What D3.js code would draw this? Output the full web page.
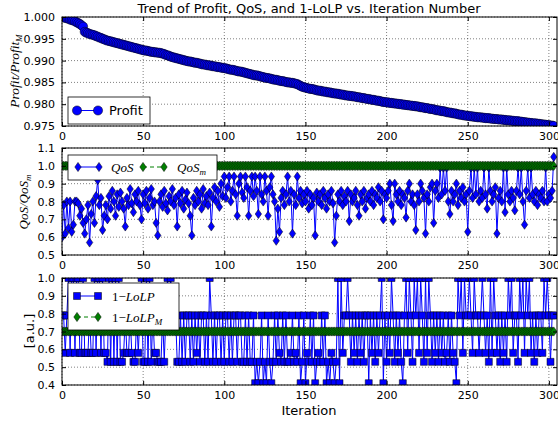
<!DOCTYPE html>
<html>
<head>
<meta charset="utf-8">
<script src="https://cdn.jsdelivr.net/npm/d3@7"></script>
<style>
body { margin: 0; background: #fff; }
svg { display: block; font-family: "DejaVu Sans", sans-serif; }
</style>
</head>
<body>
<div id="chart"></div>
<script>
// ---- data ----
const iterations = d3.range(304);

const profit = [
1.0000,0.9999,0.9998,0.9997,0.9996,0.9994,0.9993,0.9992,0.9990,0.9988,
0.9986,0.9984,0.9981,0.9978,0.9966,0.9964,0.9963,0.9961,0.9960,0.9959,
0.9958,0.9956,0.9955,0.9953,0.9952,0.9950,0.9949,0.9947,0.9946,0.9945,
0.9944,0.9943,0.9942,0.9941,0.9940,0.9939,0.9938,0.9937,0.9936,0.9935,
0.9934,0.9933,0.9932,0.9931,0.9930,0.9929,0.9928,0.9927,0.9926,0.9925,
0.9924,0.9923,0.9923,0.9922,0.9921,0.9920,0.9920,0.9919,0.9919,0.9918,
0.9918,0.9917,0.9916,0.9915,0.9913,0.9912,0.9911,0.9909,0.9908,0.9907,
0.9906,0.9905,0.9904,0.9903,0.9902,0.9901,0.9900,0.9899,0.9898,0.9898,
0.9897,0.9896,0.9895,0.9895,0.9894,0.9893,0.9892,0.9891,0.9891,0.9890,
0.9889,0.9889,0.9888,0.9887,0.9887,0.9886,0.9885,0.9885,0.9884,0.9883,
0.9883,0.9882,0.9881,0.9880,0.9879,0.9879,0.9878,0.9877,0.9876,0.9875,
0.9875,0.9874,0.9873,0.9872,0.9871,0.9870,0.9869,0.9868,0.9867,0.9866,
0.9866,0.9865,0.9864,0.9863,0.9862,0.9861,0.9860,0.9860,0.9859,0.9858,
0.9857,0.9856,0.9856,0.9855,0.9854,0.9853,0.9853,0.9852,0.9851,0.9850,
0.9850,0.9849,0.9849,0.9848,0.9847,0.9846,0.9844,0.9842,0.9840,0.9839,
0.9838,0.9837,0.9836,0.9835,0.9835,0.9834,0.9833,0.9832,0.9831,0.9831,
0.9830,0.9829,0.9829,0.9828,0.9827,0.9827,0.9826,0.9825,0.9825,0.9824,
0.9824,0.9823,0.9822,0.9822,0.9821,0.9820,0.9820,0.9819,0.9819,0.9818,
0.9818,0.9817,0.9816,0.9816,0.9815,0.9814,0.9814,0.9813,0.9812,0.9812,
0.9811,0.9810,0.9810,0.9809,0.9808,0.9808,0.9807,0.9806,0.9805,0.9805,
0.9804,0.9804,0.9803,0.9803,0.9802,0.9802,0.9801,0.9801,0.9800,0.9800,
0.9799,0.9799,0.9798,0.9798,0.9797,0.9797,0.9796,0.9796,0.9795,0.9795,
0.9794,0.9793,0.9793,0.9792,0.9791,0.9791,0.9790,0.9789,0.9789,0.9788,
0.9787,0.9786,0.9786,0.9785,0.9784,0.9784,0.9783,0.9782,0.9781,0.9781,
0.9780,0.9779,0.9779,0.9778,0.9777,0.9776,0.9776,0.9775,0.9774,0.9774,
0.9773,0.9773,0.9772,0.9772,0.9771,0.9771,0.9770,0.9770,0.9770,0.9769,
0.9769,0.9768,0.9768,0.9768,0.9767,0.9767,0.9766,0.9766,0.9766,0.9765,
0.9765,0.9765,0.9764,0.9764,0.9763,0.9763,0.9763,0.9762,0.9762,0.9761,
0.9761,0.9761,0.9760,0.9760,0.9759,0.9759,0.9758,0.9758,0.9757,0.9757,
0.9756,0.9756,0.9756,0.9755,0.9755,0.9754,0.9754,0.9753,0.9753,0.9752,
0.9752,0.9751,0.9751,0.9750
];

const qos = [
0.60,0.78,0.62,0.80,0.65,0.80,0.63,0.67,0.80,0.80,
0.79,0.72,0.76,0.68,0.62,0.70,0.78,0.57,0.73,0.80,
0.68,0.83,0.92,0.78,0.82,0.64,0.72,0.78,0.70,0.83,
0.76,0.86,0.80,0.72,0.84,0.77,0.85,0.80,0.76,0.66,
0.82,0.78,0.87,0.79,0.74,0.84,0.80,0.86,0.78,0.70,
0.84,0.79,0.86,0.76,0.82,0.87,0.78,0.80,0.68,0.61,
0.80,0.84,0.77,0.86,0.79,0.75,0.83,0.80,0.87,0.78,
0.82,0.66,0.84,0.79,0.86,0.76,0.81,0.85,0.79,0.72,
0.61,0.82,0.78,0.86,0.80,0.84,0.76,0.87,0.79,0.83,
0.78,0.85,0.66,0.82,0.88,0.80,0.86,0.77,0.90,0.83,
0.94,0.82,0.88,0.94,0.80,0.86,0.94,0.84,0.72,0.90,
0.94,0.85,0.82,0.94,0.88,0.72,0.86,0.94,0.83,0.94,
0.86,0.73,0.94,0.84,0.80,0.94,0.86,0.72,0.88,0.94,
0.84,0.80,0.58,0.76,0.63,0.82,0.86,0.78,0.84,0.94,
0.80,0.86,0.62,0.84,0.78,0.94,0.82,0.86,0.79,0.84,
0.80,0.86,0.76,0.84,0.78,0.82,0.61,0.85,0.80,0.84,
0.78,0.86,0.82,0.76,0.84,0.80,0.86,0.79,0.57,0.72,
0.84,0.80,0.86,0.78,0.83,0.80,0.86,0.69,0.84,0.80,
0.82,0.86,0.78,0.72,0.84,0.80,0.86,0.76,0.82,0.84,
0.80,0.86,0.78,0.84,0.82,0.88,0.80,0.86,0.70,0.84,
0.82,0.86,0.90,0.78,0.69,0.90,0.84,0.80,0.86,0.78,
0.84,0.82,0.71,0.86,0.90,0.80,0.84,0.78,0.64,0.84,
0.80,0.90,0.86,0.82,0.62,0.84,0.80,0.88,0.90,0.68,
0.86,0.90,0.82,0.99,0.84,0.99,0.86,0.99,0.80,0.73,
0.86,0.80,0.84,0.90,0.78,0.86,0.82,0.88,0.80,0.84,
0.63,0.86,0.99,0.82,0.99,0.84,0.99,0.80,0.86,0.82,
0.99,0.84,0.76,0.99,0.86,0.80,0.84,0.88,0.62,0.82,
0.86,0.80,0.99,0.74,0.99,0.84,0.80,0.86,0.82,0.75,
0.86,0.99,0.84,0.99,0.80,0.67,0.86,0.99,0.82,0.99,
0.84,0.80,0.86,0.78,0.84,0.82,0.86,0.80,0.99,0.80,
0.84,0.82,0.86,1.05
];
const qosTarget = 1.0;

const lolp = [
0.79,0.79,0.58,0.79,1.00,0.58,1.00,1.00,0.58,1.00,
1.00,0.58,0.58,1.00,0.58,0.58,0.58,0.79,0.58,0.58,
1.00,0.58,1.00,1.00,0.58,1.00,0.58,0.58,0.53,1.00,
0.53,1.00,0.53,1.00,0.53,1.00,0.53,0.53,0.58,0.79,
0.58,0.58,0.79,0.58,0.53,0.53,0.79,0.58,0.79,1.00,
0.53,0.53,1.00,0.53,1.00,0.53,0.79,0.58,0.58,0.53,
0.53,0.53,0.79,0.53,0.79,1.00,0.79,1.00,0.79,0.79,
0.79,0.53,0.53,0.79,0.53,0.79,0.53,0.79,0.79,0.53,
0.79,0.53,0.79,0.58,0.79,0.53,0.79,0.79,0.53,0.79,
0.53,1.00,0.79,0.53,0.79,0.53,0.79,0.79,0.53,0.79,
0.53,0.79,0.79,0.53,0.79,0.53,0.79,0.79,0.53,0.79,
0.79,0.53,0.53,0.79,0.53,0.79,0.53,0.53,0.79,0.41,
0.53,0.41,0.53,0.79,0.41,0.53,0.41,0.79,0.53,0.41,
0.53,0.79,0.53,0.79,0.58,0.53,0.79,0.53,0.79,0.53,
0.53,0.58,0.79,0.53,0.58,0.53,0.79,0.41,0.53,0.79,
0.41,0.58,0.53,0.79,0.53,0.79,0.41,0.53,0.58,0.53,
0.79,0.53,0.79,0.41,0.53,0.41,0.58,0.53,0.41,0.53,
1.00,0.41,1.00,0.58,0.79,0.79,1.00,0.79,0.53,0.79,
0.58,0.79,0.53,0.79,0.58,0.79,0.53,0.79,0.79,0.41,
0.79,0.58,0.79,0.53,0.79,0.58,0.79,1.00,0.41,0.79,
0.53,0.79,0.58,1.00,0.79,0.53,0.79,0.58,0.79,0.53,
0.41,0.79,1.00,0.58,1.00,0.79,0.53,1.00,0.79,1.00,
0.58,1.00,0.79,0.53,1.00,0.58,1.00,0.79,0.53,0.79,
0.58,0.79,0.53,0.79,0.58,0.79,0.53,0.58,0.79,0.53,
0.79,0.58,0.53,0.41,1.00,0.79,1.00,0.58,1.00,0.79,
0.79,1.00,0.79,0.58,1.00,0.79,0.79,0.58,0.79,1.00,
0.79,0.58,0.79,0.53,1.00,0.58,1.00,0.79,0.58,0.79,
0.53,0.79,0.58,0.79,0.53,1.00,0.79,1.00,0.58,0.79,
0.79,0.53,1.00,0.79,1.00,0.58,1.00,0.79,1.00,0.58,
0.79,0.53,0.79,0.58,0.79,0.79,0.58,1.00,0.79,1.00,
0.79,0.53,0.79,0.79
];
const lolpTarget = 0.7;

const xTicks = [0, 50, 100, 150, 200, 250, 300];
const profitTicks = [0.975, 0.980, 0.985, 0.990, 0.995, 1.000];
const qosTicks = [0.5, 0.6, 0.7, 0.8, 0.9, 1.0, 1.1];
const lolpTicks = [0.4, 0.5, 0.6, 0.7, 0.8, 0.9, 1.0];

// ---- drawing ----
const width = 558, height = 425;
const blue = "#0000ff", green = "#008000";

const svg = d3.select("#chart").append("svg")
  .attr("width", width).attr("height", height);

const x = d3.scaleLinear().domain([0, 305]).range([62, 557]);

const diamond = "M0,-4.6L3.2,0L0,4.6L-3.2,0Z";
const square = "M-3.5,-3.5H3.5V3.5H-3.5Z";
const circle = d3.symbol(d3.symbolCircle, 66)();

const panels = [
  { name: "profit", top: 17, bottom: 126, domain: [0.975, 1.0], ticks: profitTicks, fmt: d3.format(".3f"),
    series: [{ values: profit, color: blue, marker: circle, dash: null }] },
  { name: "qos", top: 148, bottom: 255, domain: [0.5, 1.1], ticks: qosTicks, fmt: d3.format(".1f"),
    series: [{ values: qos, color: blue, marker: diamond, dash: null },
             { values: iterations.map(() => qosTarget), color: green, marker: diamond, dash: "4,3" }] },
  { name: "lolp", top: 278, bottom: 385, domain: [0.4, 1.0], ticks: lolpTicks, fmt: d3.format(".1f"),
    series: [{ values: lolp, color: blue, marker: square, dash: null },
             { values: iterations.map(() => lolpTarget), color: green, marker: diamond, dash: "4,3" }] }
];

const [x0, x1] = x.range();

panels.forEach(p => {
  const y = d3.scaleLinear().domain(p.domain).range([p.bottom, p.top]);
  const g = svg.append("g");

  g.append("clipPath").attr("id", "clip-" + p.name)
    .append("rect").attr("x", x0).attr("y", p.top).attr("width", x1 - x0).attr("height", p.bottom - p.top);

  // dotted grid
  const grid = g.append("g").attr("stroke", "#000").attr("stroke-width", 0.5).attr("stroke-dasharray", "1,2");
  grid.selectAll(".gx").data(xTicks).join("line")
    .attr("x1", d => x(d)).attr("x2", d => x(d)).attr("y1", p.top).attr("y2", p.bottom);
  grid.selectAll(".gy").data(p.ticks).join("line")
    .attr("x1", x0).attr("x2", x1).attr("y1", d => y(d)).attr("y2", d => y(d));

  const plot = g.append("g").attr("clip-path", `url(#clip-${p.name})`);
  p.series.forEach(s => {
    const line = d3.line().x((d, i) => x(iterations[i])).y(d => y(d));
    plot.append("path").datum(s.values)
      .attr("fill", "none").attr("stroke", s.color).attr("stroke-width", 1)
      .attr("stroke-dasharray", s.dash).attr("d", line);
    plot.append("g").selectAll("path").data(s.values).join("path")
      .attr("d", s.marker)
      .attr("transform", (d, i) => `translate(${x(iterations[i])},${y(d)})`)
      .attr("fill", s.color).attr("stroke", "#000").attr("stroke-width", 0.5);
  });

  // frame
  g.append("rect").attr("x", x0).attr("y", p.top).attr("width", x1 - x0).attr("height", p.bottom - p.top)
    .attr("fill", "none").attr("stroke", "#000").attr("stroke-width", 1);

  // inward ticks on all sides
  g.append("g").attr("transform", `translate(${x0},0)`)
    .call(d3.axisLeft(y).tickValues(p.ticks).tickFormat(p.fmt).tickSize(-4).tickPadding(7))
    .call(a => a.select(".domain").remove());
  g.append("g").attr("transform", `translate(${x1},0)`)
    .call(d3.axisRight(y).tickValues(p.ticks).tickFormat("").tickSize(-4))
    .call(a => a.select(".domain").remove());
  g.append("g").attr("transform", `translate(0,${p.bottom})`)
    .call(d3.axisBottom(x).tickValues(xTicks).tickFormat(d3.format("d")).tickSize(-4).tickPadding(6))
    .call(a => a.select(".domain").remove());
  g.append("g").attr("transform", `translate(0,${p.top})`)
    .call(d3.axisTop(x).tickValues(xTicks).tickFormat("").tickSize(-4))
    .call(a => a.select(".domain").remove());

  g.selectAll(".tick text").attr("font-size", 11).attr("fill", "#000")
    .attr("font-family", "DejaVu Sans, sans-serif");
});

// ---- legends ----
function legendBox(bx, by, bw, bh) {
  svg.append("rect").attr("x", bx).attr("y", by).attr("width", bw).attr("height", bh)
    .attr("fill", "#fff").attr("stroke", "#000").attr("stroke-width", 0.8);
}
function legendEntry(lx, ly, color, marker, dash) {
  svg.append("line").attr("x1", lx).attr("x2", lx + 21).attr("y1", ly).attr("y2", ly)
    .attr("stroke", color).attr("stroke-width", 1).attr("stroke-dasharray", dash);
  [lx, lx + 21].forEach(px => svg.append("path").attr("d", marker)
    .attr("transform", `translate(${px},${ly})`)
    .attr("fill", color).attr("stroke", "#000").attr("stroke-width", 0.5));
}
const mathFont = "Liberation Serif, DejaVu Serif, serif";

legendBox(68, 97, 82, 27);
legendEntry(77, 110.5, blue, circle, null);
svg.append("text").attr("x", 109).attr("y", 115).attr("font-size", 13).text("Profit");

legendBox(68, 155, 149, 25);
legendEntry(78, 167, blue, diamond, null);
svg.append("text").attr("x", 111).attr("y", 171.5).attr("font-size", 13)
  .attr("font-family", mathFont).attr("font-style", "italic").text("QoS");
legendEntry(143, 167, green, diamond, "4,3");
const qm = svg.append("text").attr("x", 177).attr("y", 171.5).attr("font-size", 13)
  .attr("font-family", mathFont).attr("font-style", "italic");
qm.append("tspan").text("QoS");
qm.append("tspan").attr("font-size", 9).attr("dy", 3).text("m");

legendBox(68, 283, 111, 47);
legendEntry(77, 296, blue, square, null);
const l1 = svg.append("text").attr("x", 112).attr("y", 300.5).attr("font-size", 13).attr("font-family", mathFont);
l1.append("tspan").text("1\u2212");
l1.append("tspan").attr("font-style", "italic").text("LoLP");
legendEntry(77, 317, green, diamond, "4,3");
const l2 = svg.append("text").attr("x", 112).attr("y", 321.5).attr("font-size", 13).attr("font-family", mathFont);
l2.append("tspan").text("1\u2212");
l2.append("tspan").attr("font-style", "italic").text("LoLP");
l2.append("tspan").attr("font-style", "italic").attr("font-size", 9).attr("dy", 3).text("M");

// ---- titles and labels ----
svg.append("text").attr("x", 309).attr("y", 13).attr("text-anchor", "middle").attr("font-size", 13)
  .text("Trend of Profit, QoS, and 1-LoLP vs. Iteration Number");
svg.append("text").attr("x", 309).attr("y", 415).attr("text-anchor", "middle").attr("font-size", 13)
  .text("Iteration");

const yl1 = svg.append("text").attr("transform", "translate(19,71) rotate(-90)").attr("text-anchor", "middle")
  .attr("font-size", 13.5).attr("font-family", mathFont).attr("font-style", "italic");
yl1.append("tspan").text("Profit/Profit");
yl1.append("tspan").attr("font-size", 9).attr("dy", 3).text("M");

const yl2 = svg.append("text").attr("transform", "translate(28,202) rotate(-90)").attr("text-anchor", "middle")
  .attr("font-size", 13).attr("font-family", mathFont).attr("font-style", "italic");
yl2.append("tspan").text("QoS/QoS");
yl2.append("tspan").attr("font-size", 9).attr("dy", 3).text("m");

svg.append("text").attr("transform", "translate(34,331) rotate(-90)").attr("text-anchor", "middle")
  .attr("font-size", 13).text("[a.u.]");
</script>
</body>
</html>
